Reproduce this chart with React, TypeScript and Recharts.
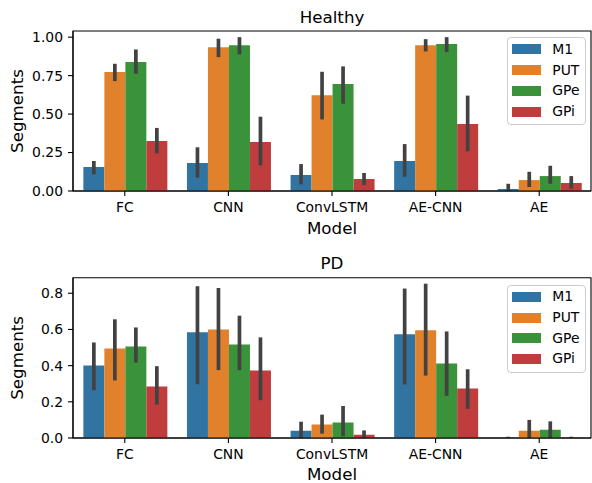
import React from 'react';
import { BarChart, Bar, XAxis, YAxis, ErrorBar, Legend, ReferenceArea } from 'recharts';

const CATEGORIES = ['FC', 'CNN', 'ConvLSTM', 'AE-CNN', 'AE'];
const SERIES = ['M1', 'PUT', 'GPe', 'GPi'];
const COLORS = ['#3274a1', '#e1812c', '#3a923a', '#c03d3e'];

// Healthy
const H_M1 = [0.156, 0.182, 0.104, 0.195, 0.013];
const H_M1_LO = [0.108, 0.087, 0.043, 0.093, 0.0];
const H_M1_HI = [0.195, 0.284, 0.175, 0.305, 0.047];
const H_PUT = [0.773, 0.935, 0.623, 0.948, 0.071];
const H_PUT_LO = [0.714, 0.87, 0.465, 0.907, 0.026];
const H_PUT_HI = [0.827, 0.99, 0.775, 0.987, 0.125];
const H_GPE = [0.838, 0.948, 0.695, 0.955, 0.097];
const H_GPE_LO = [0.762, 0.888, 0.567, 0.903, 0.047];
const H_GPE_HI = [0.92, 1.0, 0.81, 1.0, 0.164];
const H_GPI = [0.325, 0.318, 0.078, 0.435, 0.052];
const H_GPI_LO = [0.245, 0.167, 0.039, 0.258, 0.015];
const H_GPI_HI = [0.41, 0.483, 0.117, 0.62, 0.097];

// PD
const P_M1 = [0.401, 0.584, 0.04, 0.573, 0.002];
const P_M1_LO = [0.264, 0.297, 0.0, 0.296, 0.0];
const P_M1_HI = [0.528, 0.839, 0.09, 0.826, 0.007];
const P_PUT = [0.495, 0.6, 0.074, 0.595, 0.04];
const P_PUT_LO = [0.318, 0.375, 0.024, 0.345, 0.0];
const P_PUT_HI = [0.656, 0.829, 0.129, 0.853, 0.1];
const P_GPE = [0.506, 0.517, 0.085, 0.412, 0.046];
const P_GPE_LO = [0.417, 0.375, 0.01, 0.233, 0.0];
const P_GPE_HI = [0.611, 0.676, 0.177, 0.589, 0.092];
const P_GPI = [0.284, 0.373, 0.018, 0.273, 0.003];
const P_GPI_LO = [0.185, 0.209, 0.0, 0.161, 0.0];
const P_GPI_HI = [0.397, 0.556, 0.042, 0.38, 0.007];

const H_TICKS = [0, 0.25, 0.5, 0.75, 1.0];
const P_TICKS = [0, 0.2, 0.4, 0.6, 0.8];

const FONT = 'DejaVu Sans';

function buildRows(vals: number[][], los: number[][], his: number[][]) {
  return CATEGORIES.map((c, i) => {
    const row: any = { model: c };
    SERIES.forEach((s, k) => {
      const v = vals[k][i];
      row[s] = v;
      row[s + '_err'] = [Math.max(0, v - los[k][i]), Math.max(0, his[k][i] - v)];
    });
    return row;
  });
}

const H_DATA = buildRows([H_M1, H_PUT, H_GPE, H_GPI], [H_M1_LO, H_PUT_LO, H_GPE_LO, H_GPI_LO], [H_M1_HI, H_PUT_HI, H_GPE_HI, H_GPI_HI]);
const P_DATA = buildRows([P_M1, P_PUT, P_GPE, P_GPI], [P_M1_LO, P_PUT_LO, P_GPE_LO, P_GPI_LO], [P_M1_HI, P_PUT_HI, P_GPE_HI, P_GPI_HI]);

const LegendBox = (props: any) => {
  const payload = [...(props.payload || [])].sort(
    (a: any, b: any) => SERIES.indexOf(String(a.value)) - SERIES.indexOf(String(b.value))
  );
  return (
    <div
      style={{
        position: 'relative',
        width: 79,
        height: 88,
        border: '1px solid #cccccc',
        borderRadius: 4,
        background: 'rgba(255,255,255,0.8)',
        boxSizing: 'border-box',
        fontFamily: FONT,
        fontSize: 13.9,
        color: '#000',
      }}
    >
      {payload.map((p: any, i: number) => {
        const cy = 11.2 + i * 20.7;
        return (
          <React.Fragment key={i}>
            <div style={{ position: 'absolute', left: 4.6, top: cy - 5, width: 28.3, height: 10, background: p.color }} />
            <span style={{ position: 'absolute', left: 44.6, top: cy - 8.5, lineHeight: '17px', whiteSpace: 'nowrap' }}>{p.value}</span>
          </React.Fragment>
        );
      })}
    </div>
  );
};

type PanelProps = {
  title: string;
  data: any[];
  domain: [number, number];
  ticks: number[];
  fmt: (v: number) => string;
  height: number;
  marginTop: number;
  xAxisHeight: number;
  legendTop: number;
  labelOffset: number;
};

const Panel = ({ title, data, domain, ticks, fmt, height, marginTop, xAxisHeight, legendTop, labelOffset }: PanelProps) => (
  <BarChart
    width={592}
    height={height}
    data={data}
    margin={{ top: marginTop, right: 1, bottom: 0, left: 0 }}
    barCategoryGap="10%"
    barGap={0}
  >
    <XAxis
      dataKey="model"
      height={xAxisHeight}
      tickSize={5}
      tickMargin={6}
      axisLine={{ stroke: '#000', strokeWidth: 1.1 }}
      tickLine={{ stroke: '#000', strokeWidth: 1.1 }}
      tick={{ fill: '#000', fontSize: 13.9, fontFamily: FONT }}
      interval={0}
      label={{
        content: (lp: any) => {
          const vb = lp.viewBox || {};
          return (
            <text x={vb.x + vb.width / 2} y={vb.y + labelOffset} textAnchor="middle" fontSize={16.7} fontFamily={FONT} fill="#000">
              Model
            </text>
          );
        },
      }}
    />
    <YAxis
      width={73}
      domain={domain}
      ticks={ticks}
      allowDataOverflow
      tickFormatter={fmt}
      tickSize={5}
      tickMargin={5}
      axisLine={{ stroke: '#000', strokeWidth: 1.1 }}
      tickLine={{ stroke: '#000', strokeWidth: 1.1 }}
      tick={{ fill: '#000', fontSize: 13.9, fontFamily: FONT }}
      label={{
        content: (lp: any) => {
          const vb = lp.viewBox || {};
          const cy = vb.y + vb.height / 2;
          return (
            <text x={22.7} y={cy} transform={`rotate(-90, 22.7, ${cy})`} textAnchor="middle" fontSize={16.7} fontFamily={FONT} fill="#000">
              Segments
            </text>
          );
        },
      }}
    />
    <ReferenceArea
      y1={domain[0]}
      y2={domain[1]}
      fill="none"
      fillOpacity={0}
      stroke="#000"
      strokeWidth={1.1}
      ifOverflow="visible"
      label={{
        content: (lp: any) => {
          const vb = lp.viewBox || {};
          return (
            <text x={vb.x + vb.width / 2} y={vb.y - 8.3} textAnchor="middle" fontSize={16.7} fontFamily={FONT} fill="#000">
              {title}
            </text>
          );
        },
      }}
    />
    <Legend
      layout="vertical"
      align="center"
      verticalAlign="middle"
      wrapperStyle={{ top: legendTop, left: 506.7, width: 79, height: 88 }}
      content={<LegendBox />}
    />
    {SERIES.map((s, k) => (
      <Bar key={s} dataKey={s} name={s} fill={COLORS[k]} isAnimationActive={false}>
        <ErrorBar dataKey={s + '_err'} width={0} stroke="#424242" strokeWidth={3.7} direction="y" isAnimationActive={false} />
      </Bar>
    ))}
  </BarChart>
);

export default function App() {
  return (
    <div style={{ position: 'absolute', left: 0, top: 0, width: 592, height: 483, background: '#fff', fontFamily: FONT }}>
      <div style={{ position: 'absolute', left: 0, top: 0 }}>
        <Panel
          title="Healthy"
          data={H_DATA}
          domain={[0, 1.04]}
          ticks={H_TICKS}
          fmt={(v) => v.toFixed(2)}
          height={246}
          marginTop={31}
          xAxisHeight={55}
          legendTop={37.3}
          labelOffset={43}
        />
      </div>
      <div style={{ position: 'absolute', left: 0, top: 246 }}>
        <Panel
          title="PD"
          data={P_DATA}
          domain={[0, 0.886]}
          ticks={P_TICKS}
          fmt={(v) => v.toFixed(1)}
          height={237}
          marginTop={31.7}
          xAxisHeight={45}
          legendTop={38.7}
          labelOffset={42}
        />
      </div>
    </div>
  );
}
